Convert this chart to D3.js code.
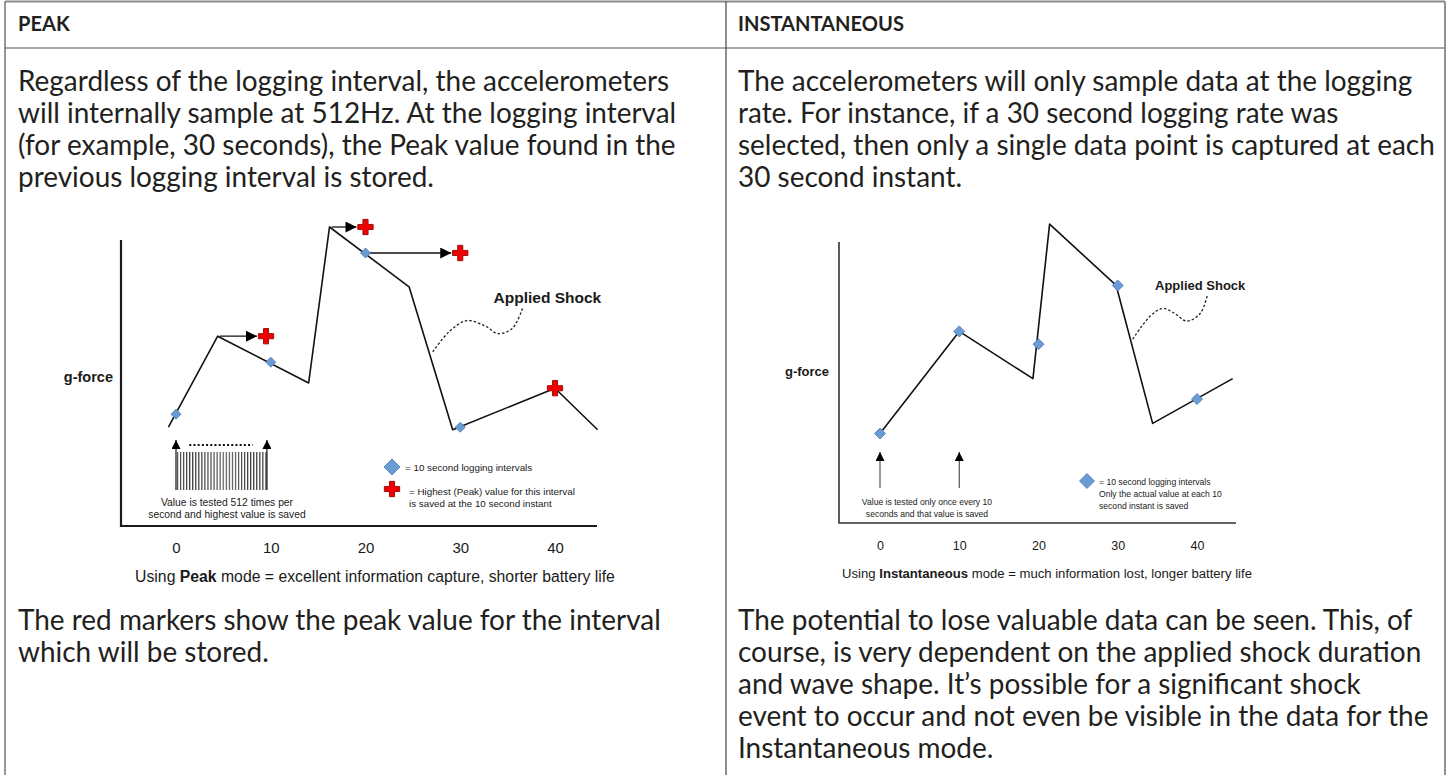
<!DOCTYPE html>
<html>
<head>
<meta charset="utf-8">
<script src="https://cdn.jsdelivr.net/npm/d3@7/dist/d3.min.js"></script>
<style>
  body { margin: 0; background: #fff; }
  svg { display: block; }
  .cuerpo { font-family: Lato, "Open Sans", sans-serif; fill: #231f20; }
  .graf { font-family: "Liberation Sans", Arial, sans-serif; fill: #1a1a1a; }
</style>
</head>
<body>
<div id="vis"></div>
<script>
// ---- Textos de la tabla ----
const HEADERS = ["PEAK", "INSTANTANEOUS"];
const INTRO_PEAK = [
  "Regardless of the logging interval, the accelerometers",
  "will internally sample at 512Hz. At the logging interval",
  "(for example, 30 seconds), the Peak value found in the",
  "previous logging interval is stored."
];
const INTRO_INST = [
  "The accelerometers will only sample data at the logging",
  "rate. For instance, if a 30 second logging rate was",
  "selected, then only a single data point is captured at each",
  "30 second instant."
];
const OUTRO_PEAK = [
  "The red markers show the peak value for the interval",
  "which will be stored."
];
const OUTRO_INST = [
  "The potential to lose valuable data can be seen. This, of",
  "course, is very dependent on the applied shock duration",
  "and wave shape. It\u2019s possible for a significant shock",
  "event to occur and not even be visible in the data for the",
  "Instantaneous mode."
];

// ---- Eje x (segundos) ----
const TICKS = [0, 10, 20, 30, 40];

// ---- Grafico Peak: onda (segundos, g) ----
const PEAK_T = [-0.8, 4.4, 14.0, 16.2, 24.6, 29.2, 40, 44.5];
const PEAK_G = [3.8, 7.3, 5.5, 11.5, 9.2, 3.7, 5.3, 3.7];
const PEAK_SAMPLE_T = [0, 10, 20, 30];
const PEAK_SAMPLE_G = [4.3, 6.3, 10.5, 3.8];
const PEAK_MAX_T = [9.5, 20, 30, 40];
const PEAK_MAX_G = [7.3, 11.5, 10.5, 5.3];
const PEAK_ARROW_FROM = [4.4, 16.2, 20];   // donde ocurre el maximo de cada intervalo
const PEAK_SHOCK_T = [27.1, 28.9, 30.7, 32.6, 34.0, 35.5, 36.6];
const PEAK_SHOCK_G = [6.7, 7.5, 7.9, 7.7, 7.4, 7.6, 8.4];

// ---- Grafico Instantaneous ----
const INST_T = [0, 10, 19.3, 21.4, 29.8, 34.4, 44.5];
const INST_G = [3.5, 7.5, 5.65, 11.7, 9.3, 3.9, 5.65];
const INST_SAMPLE_T = [0, 10, 20, 30, 40];
const INST_SAMPLE_G = [3.5, 7.5, 7.0, 9.3, 4.85];
const INST_SHOCK_T = [31.9, 34.1, 35.7, 37.2, 38.7, 40.4, 41.3];
const INST_SHOCK_G = [7.2, 8.1, 8.4, 8.2, 7.9, 8.2, 8.9];

// ---- Leyendas ----
const PEAK_NOTE = ["Value is tested 512 times per", "second and highest value is saved"];
const PEAK_LEGEND_1 = ["= 10 second logging intervals"];
const PEAK_LEGEND_2 = ["= Highest (Peak) value for this interval", "is saved at the 10 second instant"];
const INST_NOTE = ["Value is tested only once every 10", "seconds and that value is saved"];
const INST_LEGEND = ["=  10 second logging intervals", "Only the actual value at each 10", "second instant is saved"];

// ---- Tamaños ----
const W = 1449, H = 775;
const COL_X = [5, 726, 1445];
const TOP = 1.5, HEAD_BOTTOM = 48;
const PAD = [18, 738];

const svg = d3.select("#vis").append("svg").attr("width", W).attr("height", H);
const defs = svg.append("defs");

defs.append("marker").attr("id", "punta").attr("viewBox", "0 0 10 10")
  .attr("refX", 10).attr("refY", 5).attr("markerWidth", 15).attr("markerHeight", 11)
  .attr("markerUnits", "userSpaceOnUse").attr("orient", "auto")
  .append("path").attr("d", "M0,0L10,5L0,10z").attr("fill", "#000");
defs.append("marker").attr("id", "punta-chica").attr("viewBox", "0 0 10 10")
  .attr("refX", 10).attr("refY", 5).attr("markerWidth", 12).attr("markerHeight", 9)
  .attr("markerUnits", "userSpaceOnUse").attr("orient", "auto")
  .append("path").attr("d", "M0,0L10,5L0,10z").attr("fill", "#000");
defs.append("pattern").attr("id", "rayas").attr("width", 3.05).attr("height", 10)
  .attr("patternUnits", "userSpaceOnUse")
  .append("line").attr("x1", 0.6).attr("x2", 0.6).attr("y1", 0).attr("y2", 10)
  .attr("stroke", "#222").attr("stroke-width", 1);

// ---- Tabla ----
const bordes = [
  [COL_X[0], TOP, COL_X[2], TOP, "#8a8a8a", 2],
  [COL_X[0], HEAD_BOTTOM, COL_X[2], HEAD_BOTTOM, "#555", 1.2],
  [COL_X[0], TOP, COL_X[0], H, "#555", 1.2],
  [COL_X[1], TOP, COL_X[1], H, "#444", 1.2],
  [COL_X[2], TOP, COL_X[2], H, "#777", 1.6]
];
svg.selectAll(".borde").data(bordes).join("line").attr("class", "borde")
  .attr("x1", d => d[0]).attr("y1", d => d[1]).attr("x2", d => d[2]).attr("y2", d => d[3])
  .attr("stroke", d => d[4]).attr("stroke-width", d => d[5]);

// ajusta el tamaño de letra para que el texto mida "ancho"
function ajustar(sel, ancho) {
  const fs = parseFloat(sel.style("font-size"));
  const w = sel.node().getComputedTextLength();
  sel.style("font-size", (fs * ancho / w) + "px");
  return fs * ancho / w;
}

const prueba = svg.append("text").attr("class", "cuerpo").style("font-size", "100px").text(INTRO_INST[2]);
const FS_CUERPO = ajustar(prueba, 697); prueba.remove();
const prueba2 = svg.append("text").attr("class", "cuerpo").style("font-size", "100px").style("font-weight", 700).text(HEADERS[1]);
const FS_CABEZA = ajustar(prueba2, 166); prueba2.remove();

svg.selectAll(".cabeza").data(HEADERS).join("text").attr("class", "cuerpo cabeza")
  .attr("x", (d, i) => PAD[i]).attr("y", 31).style("font-size", FS_CABEZA + "px")
  .style("font-weight", 700).text(d => d);

function parrafo(lineas, x, y0, paso) {
  svg.append("g").selectAll("text").data(lineas).join("text").attr("class", "cuerpo")
    .attr("x", x).attr("y", (d, i) => y0 + i * paso).style("font-size", FS_CUERPO + "px").text(d => d);
}
parrafo(INTRO_PEAK, PAD[0], 91, 32);
parrafo(INTRO_INST, PAD[1], 91, 32);
parrafo(OUTRO_PEAK, PAD[0], 630, 32);
parrafo(OUTRO_INST, PAD[1], 630, 32);

// ---- Marcadores ----
const diamante = s => d3.symbol(d3.symbolSquare, s * s / 2)();
const cruz = d3.symbol(d3.symbolCross, 130);

function texto(g, lineas, x, y, paso, fs, anchor) {
  g.append("g").selectAll("text").data(lineas).join("text").attr("class", "graf")
    .attr("x", x).attr("y", (d, i) => y + i * paso).attr("text-anchor", anchor)
    .style("font-size", fs + "px").text(d => d);
}

function grafico(cfg) {
  const g = svg.append("g");
  const x = d3.scaleLinear().domain([0, 40]).range(cfg.xr);
  const y = d3.scaleLinear().domain([0, 11]).range([cfg.frame.bottom, cfg.frame.top]);

  // ejes
  g.append("path").attr("d", `M${cfg.frame.left},${cfg.frame.top}V${cfg.frame.bottom}H${cfg.frame.right}`)
    .attr("fill", "none").attr("stroke", cfg.ejeColor).attr("stroke-width", cfg.ejeAncho);

  const ax = g.append("g").attr("transform", `translate(0,${cfg.frame.bottom})`)
    .call(d3.axisBottom(x).tickValues(TICKS).tickSize(0).tickPadding(cfg.tickPad));
  ax.select(".domain").remove();
  ax.selectAll("text").attr("class", "graf").style("font-size", cfg.tickFs + "px")
    .style("font-family", "'Liberation Sans', Arial, sans-serif").attr("fill", "#1a1a1a");

  // g-force
  g.append("text").attr("class", "graf").attr("x", cfg.gforce[0]).attr("y", cfg.gforce[1])
    .attr("text-anchor", "end").style("font-size", cfg.gforceFs + "px").style("font-weight", 700).text("g-force");

  // onda
  const linea = d3.line().x(d => x(d[0])).y(d => y(d[1]));
  g.append("path").attr("d", linea(d3.zip(cfg.t, cfg.g)))
    .attr("fill", "none").attr("stroke", "#111").attr("stroke-width", 1.6).attr("stroke-linejoin", "round");

  // applied shock
  const curva = d3.line().curve(d3.curveCatmullRom).x(d => x(d[0])).y(d => y(d[1]));
  g.append("path").attr("d", curva(d3.zip(cfg.shockT, cfg.shockG)))
    .attr("fill", "none").attr("stroke", "#222").attr("stroke-width", 1.3).attr("stroke-dasharray", "2.5,2");
  g.append("text").attr("class", "graf").attr("x", x(cfg.shockLabel[0])).attr("y", y(cfg.shockLabel[1]))
    .attr("text-anchor", "middle").attr("dy", "0.35em").style("font-size", cfg.shockFs + "px")
    .style("font-weight", 700).text("Applied Shock");

  // caption
  const cap = g.append("text").attr("class", "graf").attr("x", cfg.caption[0]).attr("y", cfg.caption[1])
    .attr("text-anchor", "middle").style("font-size", "14px");
  cap.append("tspan").text("Using ");
  cap.append("tspan").style("font-weight", 700).text(cfg.modo);
  cap.append("tspan").text(cfg.captionResto);
  ajustar(cap, cfg.captionW);

  return {g, x, y};
}

// ---- Grafico Peak ----
const P = grafico({
  xr: [176, 555], frame: {left: 121, right: 597, top: 240, bottom: 526},
  ejeColor: "#1a1a1a", ejeAncho: 2.2, tickPad: 16, tickFs: 15,
  gforce: [113, 382], gforceFs: 14.5,
  t: PEAK_T, g: PEAK_G, shockT: PEAK_SHOCK_T, shockG: PEAK_SHOCK_G,
  shockLabel: [39.2, 8.8], shockFs: 15.5,
  caption: [375, 582], captionW: 480, modo: "Peak",
  captionResto: " mode = excellent information capture, shorter battery life"
});

// flechas al maximo
P.g.selectAll(".flecha").data(PEAK_ARROW_FROM).join("line").attr("class", "flecha")
  .attr("x1", d => P.x(d) + 2).attr("x2", (d, i) => P.x(PEAK_MAX_T[i]) - 9)
  .attr("y1", (d, i) => P.y(PEAK_MAX_G[i])).attr("y2", (d, i) => P.y(PEAK_MAX_G[i]))
  .attr("stroke", "#111").attr("stroke-width", 1.3).attr("marker-end", "url(#punta)");

P.g.selectAll(".muestra").data(PEAK_SAMPLE_T).join("path").attr("class", "muestra")
  .attr("d", diamante(10))
  .attr("transform", (d, i) => `translate(${P.x(d)},${P.y(PEAK_SAMPLE_G[i])}) rotate(45)`)
  .attr("fill", "#6b9bd3").attr("stroke", "#4a7cbf").attr("stroke-width", 0.8);

P.g.selectAll(".maximo").data(PEAK_MAX_T).join("path").attr("class", "maximo")
  .attr("d", cruz)
  .attr("transform", (d, i) => `translate(${P.x(d)},${P.y(PEAK_MAX_G[i])})`)
  .attr("fill", "#f20000").attr("stroke", "#9b1010").attr("stroke-width", 1).attr("stroke-linejoin", "round");

// muestreo de 512 Hz
P.g.append("rect").attr("x", P.x(0)).attr("y", 452).attr("width", P.x(9.6) - P.x(0)).attr("height", 38)
  .attr("fill", "url(#rayas)");
P.g.selectAll(".subida").data([0, 9.6]).join("line").attr("class", "subida")
  .attr("x1", d => P.x(d)).attr("x2", d => P.x(d)).attr("y1", 490).attr("y2", 440)
  .attr("stroke", "#111").attr("stroke-width", 1.2).attr("marker-end", "url(#punta-chica)");
P.g.append("line").attr("x1", P.x(1.4)).attr("x2", P.x(8.1)).attr("y1", 445).attr("y2", 445)
  .attr("stroke", "#111").attr("stroke-width", 2).attr("stroke-dasharray", "2,2.2");
texto(P.g, PEAK_NOTE, 227, 506, 12, 10.3, "middle");

// leyenda
P.g.append("path").attr("d", diamante(16)).attr("transform", "translate(392,467) rotate(45)")
  .attr("fill", "#6b9bd3").attr("stroke", "#4a7cbf").attr("stroke-width", 0.8);
texto(P.g, PEAK_LEGEND_1, 405, 470.5, 12, 9.8, "start");
P.g.append("path").attr("d", cruz).attr("transform", "translate(392,489)")
  .attr("fill", "#f20000").attr("stroke", "#9b1010").attr("stroke-width", 1);
texto(P.g, PEAK_LEGEND_2, 409, 494.5, 12, 9.8, "start");

// ---- Grafico Instantaneous ----
const I = grafico({
  xr: [880, 1197], frame: {left: 839, right: 1236, top: 242, bottom: 523},
  ejeColor: "#333", ejeAncho: 1.6, tickPad: 18, tickFs: 12.5,
  gforce: [829, 375.5], gforceFs: 13,
  t: INST_T, g: INST_G, shockT: INST_SHOCK_T, shockG: INST_SHOCK_G,
  shockLabel: [40.4, 9.3], shockFs: 13,
  caption: [1047, 578], captionW: 410, modo: "Instantaneous",
  captionResto: " mode = much information lost, longer battery life"
});

I.g.selectAll(".muestra").data(INST_SAMPLE_T).join("path").attr("class", "muestra")
  .attr("d", diamante(11))
  .attr("transform", (d, i) => `translate(${I.x(d)},${I.y(INST_SAMPLE_G[i])}) rotate(45)`)
  .attr("fill", "#6b9bd3").attr("stroke", "#4a7cbf").attr("stroke-width", 0.8);

I.g.selectAll(".subida").data([0, 10]).join("line").attr("class", "subida")
  .attr("x1", d => I.x(d)).attr("x2", d => I.x(d)).attr("y1", 488).attr("y2", 452)
  .attr("stroke", "#333").attr("stroke-width", 1).attr("marker-end", "url(#punta-chica)");
texto(I.g, INST_NOTE, 927, 504.5, 12, 8.6, "middle");

I.g.append("path").attr("d", diamante(15)).attr("transform", "translate(1087,481) rotate(45)")
  .attr("fill", "#6b9bd3").attr("stroke", "#4a7cbf").attr("stroke-width", 0.8);
texto(I.g, INST_LEGEND, 1099, 485, 12, 8.6, "start");
</script>
</body>
</html>
